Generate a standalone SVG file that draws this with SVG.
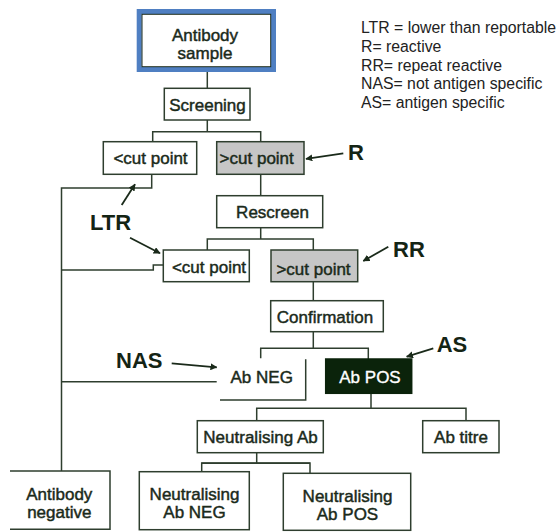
<svg xmlns="http://www.w3.org/2000/svg" width="557" height="532" viewBox="0 0 557 532">
<defs>
<marker id="ah" viewBox="0 0 10 10" refX="9" refY="5" markerWidth="7" markerHeight="7" markerUnits="userSpaceOnUse" orient="auto">
<path d="M0,0 L10,5 L0,10 z" fill="#1a2a1a"/>
</marker>
<style>
.box{fill:#ffffff;stroke:#2e3e2e;stroke-width:1.5}
.grey{fill:#c6c6c6;stroke:#2e3e2e;stroke-width:1.5}
.dark{fill:#0b230b;stroke:#0b230b;stroke-width:1.5}
.t{font-family:"Liberation Sans",Arial,sans-serif;font-size:17px;fill:#1a2a1a;stroke:#1a2a1a;stroke-width:0.45;text-anchor:middle}
.tw{font-family:"Liberation Sans",Arial,sans-serif;font-size:17px;fill:#ffffff;stroke:#ffffff;stroke-width:0.35;text-anchor:middle}
.lg{font-family:"Liberation Sans",Arial,sans-serif;font-size:15.8px;fill:#222222}
.lab{font-family:"Liberation Sans",Arial,sans-serif;font-size:22px;font-weight:bold;fill:#142414}
.ln{fill:none;stroke:#2e3e2e;stroke-width:1.5}
.ar{fill:none;stroke:#1a2a1a;stroke-width:1.8;marker-end:url(#ah)}
</style>
</defs>
<rect width="557" height="532" fill="#ffffff"/>

<g id="connectors">
<path class="ln" d="M207.3,72 V88.3"/>
<path class="ln" d="M207.3,120 V131.7 M152.7,141.7 V131.7 H260.7 V141.7"/>
<path class="ln" d="M260.7,174.3 V195.7"/>
<path class="ln" d="M260.7,227.7 V239 M207.3,250 V239 H313.3 V250"/>
<path class="ln" d="M313.3,281.7 V300.7"/>
<path class="ln" d="M313.3,331.7 V348.3 M260.7,358.3 V348.3 H368.3 V359"/>
<path class="ln" d="M371,393.3 V408.3 M256.7,420.7 V408.3 H466 V420.7"/>
<path class="ln" d="M256.7,452.7 V463 M201.7,471.7 V463 H310 V473.3" />
<path class="ln" d="M201.7,463.3 H310" stroke-width="3"/>
<path class="ln" d="M151.7,174.3 V188 H61.5 V471"/>
<path class="ln" d="M61.5,270 H153.3 V265 H163.3"/>
<path class="ln" d="M61.5,381.7 H216.7"/>
</g>

<g id="arrows">
<path class="ar" d="M343.3,153.3 L306,158.8"/>
<path class="ar" d="M121.7,205 L135,184.3"/>
<path class="ar" d="M130,237.7 L160,253.3"/>
<path class="ar" d="M388.3,246.7 L363.3,261"/>
<path class="ar" d="M171.7,363.3 L216.7,367.3"/>
<path class="ar" d="M433.3,348.3 L406.7,356.7"/>
</g>

<g id="labels">
<text class="lab" x="348" y="160">R</text>
<text class="lab" x="90" y="230" font-size="23">LTR</text>
<text class="lab" x="393" y="257.3">RR</text>
<text class="lab" x="116" y="368.3">NAS</text>
<text class="lab" x="436.7" y="351.7" font-size="23">AS</text>
</g>

<g id="legend">
<text class="lg" x="361" y="33.3">LTR = lower than reportable</text>
<text class="lg" x="361" y="51.7">R= reactive</text>
<text class="lg" x="361" y="70.7">RR= repeat reactive</text>
<text class="lg" x="361" y="89.3">NAS= not antigen specific</text>
<text class="lg" x="361" y="108.3">AS= antigen specific</text>
</g>

<g id="antibody-sample">
<rect x="139.2" y="11.5" width="134.3" height="58" fill="#ffffff" stroke="#4f7fc2" stroke-width="5"/>
<rect x="142" y="14.3" width="128.7" height="52.4" fill="none" stroke="#1a2a1a" stroke-width="1"/>
<text class="t" x="205" y="40.7">Antibody</text>
<text class="t" x="205" y="59.3">sample</text>
</g>

<g id="screening">
<rect class="box" x="164.3" y="88.3" width="85.7" height="31.7"/>
<text class="t" x="207.5" y="110.5">Screening</text>
</g>

<g id="cut-low-1">
<rect class="box" x="103.3" y="141.7" width="93.4" height="32.6"/>
<text class="t" x="150.5" y="163.5">&lt;cut point</text>
</g>

<g id="cut-high-1">
<rect class="grey" x="216.7" y="141.7" width="87.3" height="32.6"/>
<text class="t" x="256.7" y="163.5">&gt;cut point</text>
</g>

<g id="rescreen">
<rect class="box" x="216.7" y="195.7" width="106" height="32"/>
<text class="t" x="272.5" y="217.7">Rescreen</text>
</g>

<g id="cut-low-2">
<rect class="box" x="163.3" y="250" width="86" height="31.7"/>
<text class="t" x="209" y="272.7">&lt;cut point</text>
</g>

<g id="cut-high-2">
<rect class="grey" x="271" y="250" width="86.7" height="31.7"/>
<text class="t" x="313.5" y="275">&gt;cut point</text>
</g>

<g id="confirmation">
<rect class="box" x="270.7" y="300.7" width="112.6" height="31"/>
<text class="t" x="325" y="323.3">Confirmation</text>
</g>

<g id="ab-neg">
<path class="ln" d="M305.7,359.3 V400 H220"/>
<text class="t" x="261.7" y="382.7">Ab NEG</text>
</g>

<g id="ab-pos">
<rect class="dark" x="325.7" y="359" width="86" height="34.3"/>
<text class="tw" x="370" y="383.3">Ab POS</text>
</g>

<g id="neutralising-ab">
<rect class="box" x="197.3" y="420.7" width="126" height="32"/>
<text class="t" x="260.5" y="442.7">Neutralising Ab</text>
</g>

<g id="ab-titre">
<rect class="box" x="422.7" y="420.7" width="76.3" height="32"/>
<text class="t" x="461" y="442.7">Ab titre</text>
</g>

<g id="antibody-negative">
<path class="ln" d="M10,471 H110 V529.3 H10"/>
<text class="t" x="59.3" y="500.3">Antibody</text>
<text class="t" x="59.3" y="518.3">negative</text>
</g>

<g id="neutralising-ab-neg">
<rect class="box" x="139.3" y="471.7" width="110" height="58"/>
<text class="t" x="194.5" y="500">Neutralising</text>
<text class="t" x="194.5" y="517.5">Ab NEG</text>
</g>

<g id="neutralising-ab-pos">
<rect class="box" x="283.3" y="473.3" width="127.4" height="57"/>
<text class="t" x="347.5" y="502.3">Neutralising</text>
<text class="t" x="347.5" y="520">Ab POS</text>
</g>
</svg>
